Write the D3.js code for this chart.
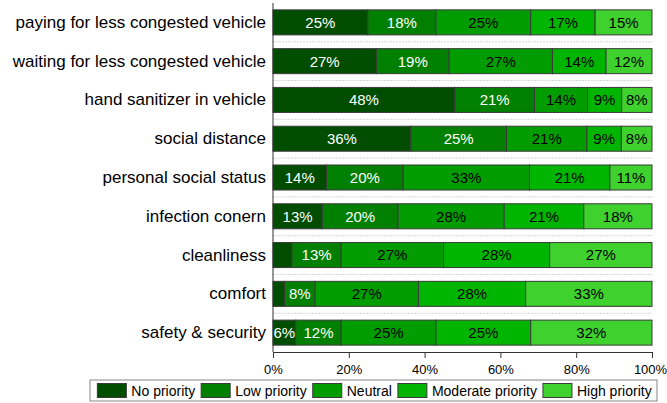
<!DOCTYPE html>
<html>
<head>
<meta charset="utf-8">
<script src="https://cdn.jsdelivr.net/npm/d3@7"></script>
<style>
  html, body { margin: 0; padding: 0; background: #fff; }
  svg { display: block; font-family: "Liberation Sans", Arial, sans-serif; }
</style>
</head>
<body>
<svg id="chart" width="667" height="403"></svg>
<script>
// Survey items, top to bottom
const categories = [
  "paying for less congested vehicle",
  "waiting for less congested vehicle",
  "hand sanitizer in vehicle",
  "social distance",
  "personal social status",
  "infection conern",
  "cleanliness",
  "comfort",
  "safety & security"
];

// Share of respondents (%) per priority level, one value per item
const noPriority       = [25, 27, 48, 36, 14, 13, 5, 3, 6];
const lowPriority      = [18, 19, 21, 25, 20, 20, 13, 8, 12];
const neutral          = [25, 27, 14, 21, 33, 28, 27, 27, 25];
const moderatePriority = [17, 14, 9, 9, 21, 21, 28, 28, 25];
const highPriority     = [15, 12, 8, 8, 11, 18, 27, 33, 32];

const seriesNames = ["No priority", "Low priority", "Neutral", "Moderate priority", "High priority"];
const seriesValues = [noPriority, lowPriority, neutral, moderatePriority, highPriority];
const xTicks = [0, 0.2, 0.4, 0.6, 0.8, 1];

const colors = ["#004d00", "#007f00", "#009c00", "#00b500", "#3fd22f"];
const labelColors = ["#ffffff", "#ffffff", "#000000", "#000000", "#000000"];

// Rows for the stack layout
const rows = categories.map((c, i) => {
  const r = { category: c };
  seriesNames.forEach((s, k) => { r[s] = seriesValues[k][i]; });
  return r;
});

const svg = d3.select("#chart");
const margin = { left: 273, right: 15, top: 3, bottom: 51 };
const W = 667, H = 403;

const x = d3.scaleLinear().domain([0, 1]).range([margin.left, W - margin.right]);
const y = d3.scaleBand().domain(categories)
  .range([margin.top, H - margin.bottom])
  .paddingInner(0.355).paddingOuter(0.177);

const stack = d3.stack().keys(seriesNames).offset(d3.stackOffsetExpand);
const stacked = stack(rows);

// Dotted separators between rows
const step = y.step();
const gap = step - y.bandwidth();
svg.append("g")
  .selectAll("line")
  .data(categories.slice(1))
  .join("line")
  .attr("x1", x(0)).attr("x2", x(1))
  .attr("y1", d => y(d) - gap / 2).attr("y2", d => y(d) - gap / 2)
  .attr("stroke", "#d6d6d6")
  .attr("stroke-width", 1)
  .attr("stroke-dasharray", "2,1");

// Stacked bars
const layers = svg.append("g")
  .selectAll("g")
  .data(stacked)
  .join("g")
  .attr("fill", (d, i) => colors[i]);

layers.selectAll("rect")
  .data(d => d)
  .join("rect")
  .attr("x", d => x(d[0]))
  .attr("y", d => y(d.data.category))
  .attr("width", d => x(d[1]) - x(d[0]))
  .attr("height", y.bandwidth())
  .attr("stroke", "#3a3a3a")
  .attr("stroke-width", 1);

// Value labels inside segments
svg.append("g")
  .selectAll("g")
  .data(stacked)
  .join("g")
  .attr("fill", (d, i) => labelColors[i])
  .selectAll("text")
  .data(d => d.map(p => ({ p, key: d.key })))
  .join("text")
  .filter(d => d.p.data[d.key] >= 6)
  .attr("x", d => (x(d.p[0]) + x(d.p[1])) / 2)
  .attr("y", d => y(d.p.data.category) + y.bandwidth() / 2)
  .attr("dy", "0.36em")
  .attr("text-anchor", "middle")
  .attr("font-size", 15)
  .text(d => d.p.data[d.key] + "%");

// Category axis
const yAxis = svg.append("g")
  .attr("transform", `translate(${x(0)},0)`)
  .call(d3.axisLeft(y).tickSize(0).tickPadding(7));
yAxis.select(".domain").attr("stroke", "#333").attr("d", `M0,${margin.top}V${H - margin.bottom}`);
yAxis.selectAll("text").attr("font-size", 17).attr("fill", "#000").attr("font-family", null);

// Percentage axis
const xAxis = svg.append("g")
  .attr("transform", `translate(0,${H - margin.bottom})`)
  .call(d3.axisBottom(x).tickValues(xTicks).tickFormat(d3.format(".0%")).tickSize(6).tickSizeOuter(0).tickPadding(7));
xAxis.select(".domain").attr("stroke", "#333");
xAxis.selectAll(".tick line").attr("stroke", "#333");
xAxis.selectAll("text").attr("font-size", 13).attr("fill", "#000").attr("font-family", null);
// keep the last tick label inside the canvas
xAxis.selectAll(".tick text").filter(d => d === 1).attr("dx", "-2");

// Legend
const legend = svg.append("g");
const swW = 29, swH = 14, padText = 5, padItem = 6;
const boxTop = 380, boxH = 21;
let cx = 0;
seriesNames.forEach((name, i) => {
  const g = legend.append("g");
  g.append("rect")
    .attr("x", cx).attr("y", boxTop + (boxH - swH) / 2)
    .attr("width", swW).attr("height", swH)
    .attr("fill", colors[i]).attr("stroke", "#3a3a3a");
  const t = g.append("text")
    .attr("x", cx + swW + padText)
    .attr("y", boxTop + boxH / 2)
    .attr("dy", "0.36em")
    .attr("font-size", 14)
    .text(name);
  cx += swW + padText + t.node().getComputedTextLength() + padItem;
});
const legendW = cx - padItem;
const boxLeft = 90, boxRight = 657;
const offset = boxLeft + 5 + ((boxRight - boxLeft - 8) - legendW) / 2;
legend.attr("transform", `translate(${offset},0)`);
svg.insert("rect", "g")
  .attr("x", boxLeft).attr("y", boxTop)
  .attr("width", boxRight - boxLeft).attr("height", boxH)
  .attr("fill", "#fff").attr("stroke", "#888");
</script>
</body>
</html>
